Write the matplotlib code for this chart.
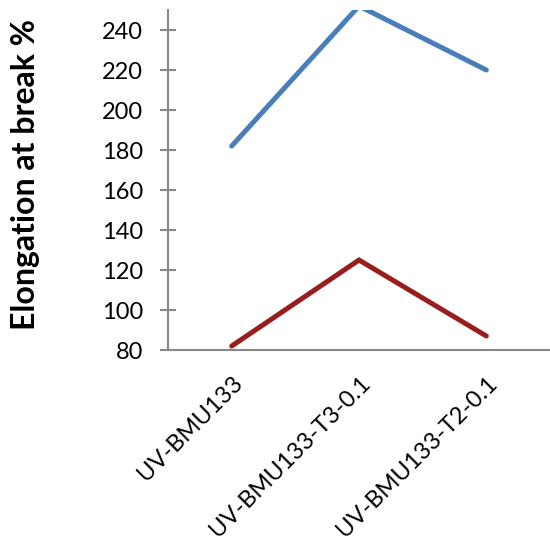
import matplotlib.pyplot as plt
from matplotlib.transforms import ScaledTranslation

samples = ['UV-BMU133', 'UV-BMU133-T3-0.1', 'UV-BMU133-T2-0.1']
upper = [182, 252, 220]
lower = [82, 125, 87]
y_ticks = [80, 100, 120, 140, 160, 180, 200, 220, 240]

plt.rcParams['font.family'] = ['Lato', 'DejaVu Sans']

fig = plt.figure(figsize=(5.5, 5.42), dpi=100)
ax = fig.add_axes([0.3055, 0.3542, 0.6945, 0.6273])

x = range(len(samples))
ax.plot(x, upper, color='#4a7ebb', linewidth=3.6, solid_capstyle='round', solid_joinstyle='miter')
ax.plot(x, lower, color='#981e1e', linewidth=3.6, solid_capstyle='round', solid_joinstyle='miter')

ax.set_xlim(-0.5, 2.5)
ax.set_ylim(80, 250)
ax.set_yticks(y_ticks)
ax.set_xticks(list(x))
ax.set_xticklabels(samples, rotation=45, ha='right', va='top', rotation_mode='anchor', fontsize=17)

# nudge the rotated category labels to the left
shift = ScaledTranslation(-12 / 72, 0, fig.dpi_scale_trans)
for lbl in ax.get_xticklabels():
    lbl.set_transform(lbl.get_transform() + shift)

ax.tick_params(axis='y', direction='inout', length=12, width=1.5, color='#888888', labelsize=17, pad=12)
ax.tick_params(axis='x', length=0, pad=16)

for side in ['top', 'right']:
    ax.spines[side].set_visible(False)
for side in ['left', 'bottom']:
    ax.spines[side].set_color('#888888')
    ax.spines[side].set_linewidth(1.5)

ax.set_ylabel('Elongation at break %', fontsize=23, fontweight='bold')
ax.yaxis.set_label_coords(-0.335, 0.515)

fig.savefig('out.png', dpi=100)
